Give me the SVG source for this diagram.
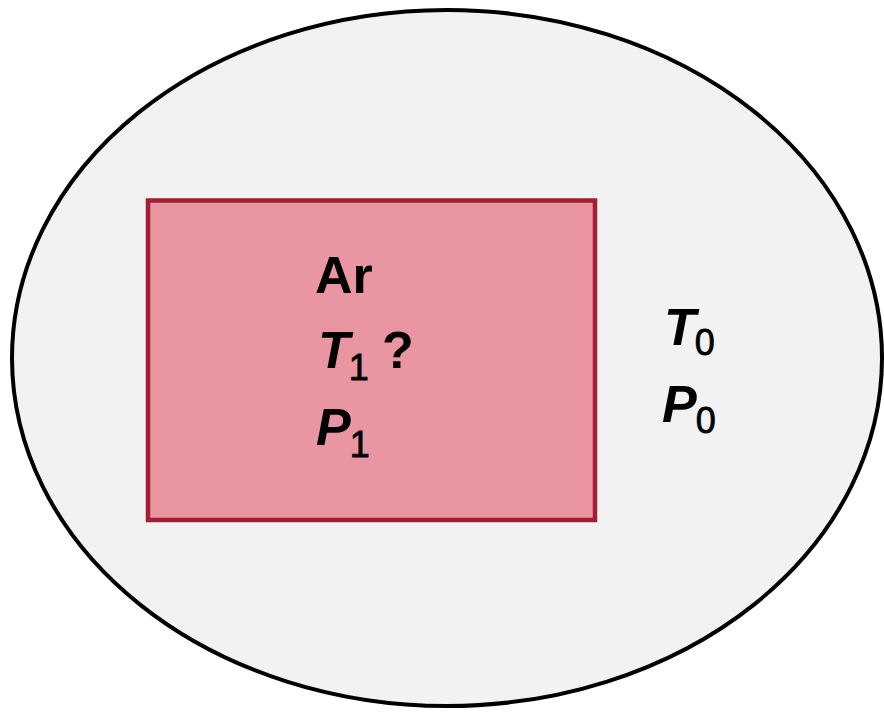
<svg xmlns="http://www.w3.org/2000/svg" width="884" height="712" viewBox="0 0 884 712">
<style>
.t{font-family:"Liberation Sans",Arial,sans-serif;font-weight:bold;font-size:52px;fill:#000}
.i{font-style:italic}
.s{font-weight:normal;font-style:normal;font-size:36px;stroke:#000;stroke-width:0.8}
</style>
<rect width="884" height="712" fill="#fff"/>
<g id="surroundings">
<ellipse cx="447" cy="358" rx="435" ry="348" fill="#F2F2F2" stroke="#000" stroke-width="4"/>
<text class="t" x="664" y="345"><tspan class="i">T</tspan><tspan class="s" dx="-1" dy="10">0</tspan></text>
<text class="t" x="662" y="422"><tspan class="i">P</tspan><tspan class="s" dx="-1" dy="11">0</tspan></text>
</g>
<g id="system">
<rect x="148" y="200.5" width="447" height="319.5" fill="#EA95A2" stroke="#A31D36" stroke-width="4.5"/>
<text class="t" x="315" y="293">Ar</text>
<text class="t" x="318" y="368"><tspan class="i">T</tspan><tspan class="s" dx="-1" dy="12">1</tspan></text>
<text class="t" x="382" y="368">?</text>
<text class="t" x="316" y="445"><tspan class="i">P</tspan><tspan class="s" dx="-1" dy="12">1</tspan></text>
</g>
</svg>
